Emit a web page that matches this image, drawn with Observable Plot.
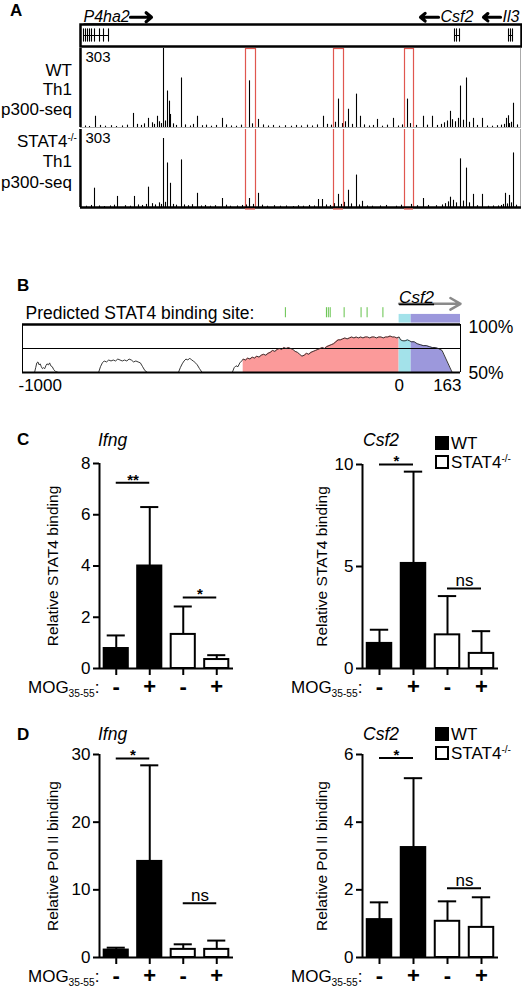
<!DOCTYPE html>
<html><head><meta charset="utf-8">
<script src="https://cdn.jsdelivr.net/npm/d3@7"></script>
<script src="https://cdn.jsdelivr.net/npm/@observablehq/plot@0.6"></script>
<style>
html,body{margin:0;padding:0;background:#fff;overflow:hidden}
#fig{position:relative;width:522px;height:989px;font-family:"Liberation Sans",Arial,Helvetica,sans-serif;color:#000;overflow:hidden}
#fig svg{position:absolute;overflow:visible}
.lab{position:absolute;white-space:nowrap;line-height:1}
.lab sup{font-size:0.6em;vertical-align:0.55em;line-height:0}
.lab sub{font-size:0.6em;vertical-align:-0.35em;line-height:0}
.sq{position:absolute;box-sizing:border-box;width:14px;height:14px;border:2px solid #000}
</style></head><body><div id="fig"></div>
<script>
const FONT = '"Liberation Sans", Arial, Helvetica, sans-serif';

// ---------------- Panel A data (positions in track bins, values in reads, max 303) ----------------
const trackDomain = [0, 441];
const trackMax = 303;
const p4ha2Exons = [3, 5, 7, 9, 11, 14, 19, 23, 28];
const csf2Exons = [374, 376, 379];
const il3Exons = [428, 430, 432];
const geneModels = [
  {gene: "P4ha2", start: 3, end: 28},
  {gene: "Csf2", start: 374, end: 379},
  {gene: "Il3", start: 428, end: 432}
];
const geneLabels = [
  {gene: "P4ha2", textX: 3, arrowFrom: 50, arrowTo: 71},
  {gene: "Csf2", textX: 360, arrowFrom: 358, arrowTo: 340},
  {gene: "Il3", textX: 422, arrowFrom: 420, arrowTo: 403}
];
const enhancerRegions = [[165, 175], [253, 263], [324, 333]];
const wtPeaks = [[15,43],[53,54],[68,35],[77,43],[83,303],[87,140],[89,101],[90,50],[101,190],[117,43],[142,35],[169,179],[178,31],[243,43],[258,109],[268,70],[276,128],[280,43],[297,31],[313,35],[327,109],[343,43],[352,43],[370,62],[380,159],[386,190],[393,35],[402,35],[426,35],[428,45],[433,93]];
const wtNoise = [[5,6],[9,4],[20,8],[25,5],[31,7],[36,4],[42,6],[47,9],[57,12],[61,8],[64,14],[72,18],[74,12],[79,22],[81,15],[85,25],[93,14],[96,8],[105,10],[110,6],[113,12],[122,7],[126,9],[131,5],[136,8],[146,10],[151,6],[156,5],[161,9],[165,12],[172,14],[183,10],[188,6],[193,8],[199,5],[205,7],[211,5],[216,8],[221,6],[227,9],[232,6],[237,10],[247,12],[251,9],[255,20],[262,15],[265,22],[272,12],[284,10],[289,6],[293,8],[302,5],[307,9],[318,6],[322,10],[330,15],[336,8],[347,9],[357,8],[361,12],[364,18],[367,25],[372,30],[375,22],[378,35],[383,28],[389,20],[397,8],[407,6],[412,5],[417,7],[421,9],[424,12],[429,15],[431,20],[437,10]];
const stat4Peaks = [[14,75],[37,43],[54,43],[68,79],[83,268],[87,173],[90,94],[101,185],[117,55],[142,35],[169,35],[178,55],[238,31],[242,31],[258,51],[268,67],[276,126],[282,24],[343,35],[370,40],[380,189],[386,153],[393,51],[402,51],[425,55],[429,47],[433,212]];
const stat4Noise = [[6,5],[11,8],[19,6],[24,4],[30,6],[34,9],[45,7],[50,5],[58,10],[62,8],[66,12],[72,15],[75,10],[79,18],[81,12],[85,20],[93,12],[96,9],[104,10],[108,7],[112,11],[121,6],[125,8],[130,5],[135,7],[146,9],[150,5],[157,6],[162,8],[166,10],[173,12],[182,9],[187,5],[194,7],[200,5],[206,6],[213,4],[218,7],[223,5],[229,8],[234,6],[246,10],[250,8],[254,15],[261,12],[264,20],[271,14],[279,10],[287,6],[292,5],[300,6],[306,8],[316,5],[321,9],[331,12],[337,7],[348,8],[356,7],[362,10],[365,15],[368,22],[373,28],[376,18],[383,25],[389,18],[397,7],[408,5],[413,6],[418,6],[421,8],[423,12],[427,14],[431,18],[436,9]];

// ---------------- Panel B data (bp relative to Csf2 TSS, % identity) ----------------
const consDomain = [-1000, 163];
const bindingSites = [-302, -193, -188, -183, -146, -101, -85, -43];
const exonUTR = [0, 32];
const exonCDS = [32, 163];
const consSeg1 = [[-968,50],[-965,55],[-962,60],[-959,61],[-956,58],[-953,59],[-950,56],[-947,54],[-944,55],[-941,54],[-938,57],[-935,59],[-931,58],[-928,60],[-925,57],[-921,56],[-917,53],[-912,51],[-905,50]];
const consSeg2 = [[-798,50],[-793,56],[-788,60],[-783,62],[-777,61],[-771,63],[-765,62],[-759,63],[-753,62],[-747,64],[-741,63],[-735,62],[-729,63],[-723,62],[-717,64],[-711,63],[-705,61],[-699,62],[-693,61],[-687,60],[-681,56],[-675,52],[-668,50]];
const consSeg3 = [[-586,50],[-581,55],[-576,59],[-571,62],[-566,64],[-561,63],[-556,65],[-551,63],[-546,62],[-541,60],[-536,58],[-530,54],[-523,50]];
const consSeg4 = [[-443,50],[-438,55],[-433,57],[-428,56],[-423,60],[-418,62],[-414,64],[-408,63],[-402,65],[-396,64],[-390,66],[-384,65],[-378,67],[-372,66],[-366,68],[-360,69],[-354,68],[-348,70],[-342,71],[-336,73],[-330,72],[-324,74],[-318,75],[-312,74],[-306,76],[-300,75],[-294,76],[-288,75],[-282,74],[-276,72],[-270,71],[-264,69],[-258,67],[-252,68],[-246,70],[-240,69],[-234,71],[-228,72],[-222,73],[-216,74],[-210,75],[-204,76],[-198,75],[-192,77],[-186,78],[-180,79],[-174,80],[-168,82],[-162,84],[-156,84],[-150,85],[-144,86],[-138,85],[-132,86],[-126,87],[-120,86],[-114,87],[-108,86],[-102,87],[-96,86],[-90,87],[-84,87],[-78,86],[-72,87],[-66,87],[-60,86],[-54,87],[-48,87],[-42,86],[-36,87],[-30,87],[-24,88],[-18,87],[-12,87],[-6,86],[0,87],[4,84],[10,83],[16,83],[22,84],[28,83],[32,82],[40,82],[48,80],[56,79],[64,78],[72,78],[80,77],[88,76],[96,76],[104,75],[114,73],[141,50]];
const conservedStart = -414; // start of the conserved (pink) region
const consTickLabels = ["-1000", "0", "163"];
const consTickPos = [-1000, 0, 163];

// ---------------- Panels C & D data ----------------
const mogLabels = ["-", "+", "-", "+"];
const genotype = ["WT", "WT", "STAT4", "STAT4"];
const cIfngMean = [0.78, 4.0, 1.33, 0.35];
const cIfngSD   = [0.51, 2.3, 1.09, 0.17];
const cCsf2Mean = [1.23, 5.15, 1.65, 0.74];
const cCsf2SD   = [0.67, 4.5, 1.9, 1.09];
const dIfngMean = [1.1, 14.2, 1.2, 1.2];
const dIfngSD   = [0.35, 14.2, 0.75, 1.3];
const dCsf2Mean = [1.12, 3.25, 1.07, 0.89];
const dCsf2SD   = [0.51, 2.05, 0.59, 0.89];
const cIfngSig = [{from: 0, to: 1, y: 7.25, text: "**"}, {from: 2, to: 3, y: 2.77, text: "*"}];
const cCsf2Sig = [{from: 0, to: 1, y: 10.0, text: "*"}, {from: 2, to: 3, y: 3.92, text: "ns"}];
const dIfngSig = [{from: 0, to: 1, y: 29.4, text: "*"}, {from: 2, to: 3, y: 8.0, text: "ns"}];
const dCsf2Sig = [{from: 0, to: 1, y: 5.9, text: "*"}, {from: 2, to: 3, y: 2.05, text: "ns"}];
const cIfngTicks = [0, 2, 4, 6, 8];
const cCsf2Ticks = [0, 5, 10];
const dIfngTicks = [0, 10, 20, 30];
const dCsf2Ticks = [0, 2, 4, 6];

// ---------------- helpers ----------------
const fig = document.getElementById("fig");
function place(node, left, top) {
  node.style.position = "absolute";
  node.style.left = left + "px";
  node.style.top = top + "px";
  fig.appendChild(node);
  return node;
}
function label(html, x, top, css = {}, align = "left") {
  const d = document.createElement("div");
  d.className = "lab";
  d.innerHTML = html;
  Object.assign(d.style, css);
  fig.appendChild(d);
  d.style.top = top + "px";
  if (align === "right") d.style.right = (522 - x) + "px";
  else d.style.left = x + "px";
  return d;
}
const baseStyle = {fontFamily: FONT, fontSize: "15px", background: "transparent", overflow: "visible", color: "black"};

// ---------------- Panel A ----------------
label("A", 10, 2, {fontSize: "17px", fontWeight: "bold"});

const genePlot = Plot.plot({
  width: 522, height: 47, marginLeft: 80, marginRight: 1, marginTop: 24, marginBottom: 1,
  x: {domain: trackDomain, axis: null}, y: {domain: [0, 1], axis: null},
  style: baseStyle,
  marks: [
    Plot.ruleY(geneModels, {x1: "start", x2: "end", y: 0.5, strokeWidth: 1}),
    Plot.ruleX([...p4ha2Exons, ...csf2Exons, ...il3Exons], {x: d => d, y1: 0.2, y2: 0.8, strokeWidth: 1.1}),
    Plot.frame({stroke: "black", strokeWidth: 2.5}),
    Plot.text(geneLabels, {x: "textX", y: 1.33, text: "gene", textAnchor: "start", fontStyle: "italic", fontSize: 16}),
    Plot.arrow(geneLabels, {x1: "arrowFrom", x2: "arrowTo", y1: 1.33, y2: 1.33, strokeWidth: 3.2, headLength: 8, headAngle: 80})
  ]
});
place(genePlot, 0, 0);
genePlot.querySelectorAll("text").forEach(t => { if (t.textContent === "P4ha2") t.setAttribute("text-decoration", "underline"); });

function trackPlot(peaks, noise, top, h, mt, mb, isLast) {
  const all = [...noise, ...peaks];
  const marks = [
    Plot.ruleY([0], {stroke: "#999", strokeWidth: 0.8}),
    Plot.ruleX(all, {x: d => d[0], y1: 0, y2: d => d[1], stroke: "black", strokeWidth: 1.1}),
    Plot.ruleX([trackDomain[0]], {stroke: "black", strokeWidth: 2.5}),
    Plot.ruleX([trackDomain[1] - 1], {stroke: "#aaa", strokeWidth: 1}),
    Plot.text([trackMax], {x: trackDomain[0], y: trackMax, text: d => String(d), textAnchor: "start", dx: 5, dy: 9, fontSize: 15}),
    Plot.ruleX(enhancerRegions.flat(), {stroke: "#e0574f", strokeWidth: 1.2})
  ];
  if (isLast) {
    marks.push(Plot.ruleY([0], {stroke: "black", strokeWidth: 2.5}));
    marks.push(Plot.ruleY(enhancerRegions, {x1: d => d[0], x2: d => d[1], y: 0, dy: 1.5, stroke: "#e0574f", strokeWidth: 1.2}));
  } else {
    marks.push(Plot.ruleY(enhancerRegions, {x1: d => d[0], x2: d => d[1], y: trackMax, stroke: "#e0574f", strokeWidth: 1.2}));
  }
  const p = Plot.plot({
    width: 522, height: h, marginLeft: 80, marginRight: 1, marginTop: mt, marginBottom: mb,
    x: {domain: trackDomain, axis: null}, y: {domain: [0, trackMax], axis: null},
    style: baseStyle, marks
  });
  return place(p, 0, top);
}
trackPlot(wtPeaks, wtNoise, 46, 81, 2, 0, false);
trackPlot(stat4Peaks, stat4Noise, 127, 81, 2, 1, true);

const tl = {fontSize: "17px"};
label("WT", 72, 61.5, tl, "right");
label("Th1", 72, 80.5, tl, "right");
label("p300-seq", 72, 101, tl, "right");
label("STAT4<sup>-/-</sup>", 77, 133, tl, "right");
label("Th1", 72, 152.5, tl, "right");
label("p300-seq", 72, 174, tl, "right");

// ---------------- Panel B ----------------
label("B", 17, 277, {fontSize: "17px", fontWeight: "bold"});
const seg4 = consSeg4;
const redPart = seg4.filter(d => d[0] >= conservedStart && d[0] <= exonUTR[0]);
const cyanPart = seg4.filter(d => d[0] >= exonUTR[0] && d[0] <= exonUTR[1]);
const purplePart = seg4.filter(d => d[0] >= exonCDS[0]);
const consPlot = Plot.plot({
  width: 522, height: 112, marginLeft: 22, marginRight: 62, marginTop: 44, marginBottom: 20,
  x: {domain: consDomain, axis: null}, y: {domain: [50, 100], axis: null},
  style: baseStyle,
  marks: [
    Plot.areaY(redPart, {x: d => d[0], y1: 50, y2: d => d[1], fill: "#fb9a9a"}),
    Plot.areaY(cyanPart, {x: d => d[0], y1: 50, y2: d => d[1], fill: "#a3e2ea"}),
    Plot.areaY(purplePart, {x: d => d[0], y1: 50, y2: d => d[1], fill: "#9c98dc"}),
    Plot.ruleY([75], {stroke: "black", strokeWidth: 1}),
    Plot.ruleX(consDomain, {y1: 50, y2: 100, stroke: "black", strokeWidth: 1}),
    Plot.line(consSeg1, {x: d => d[0], y: d => d[1], stroke: "#222", strokeWidth: 0.9}),
    Plot.line(consSeg2, {x: d => d[0], y: d => d[1], stroke: "#222", strokeWidth: 0.9}),
    Plot.line(consSeg3, {x: d => d[0], y: d => d[1], stroke: "#222", strokeWidth: 0.9}),
    Plot.line(consSeg4, {x: d => d[0], y: d => d[1], stroke: "#222", strokeWidth: 0.9}),
    Plot.ruleY([50], {stroke: "black", strokeWidth: 2}),
    Plot.ruleY([100], {stroke: "black", strokeWidth: 2.5}),
    Plot.rect([exonUTR], {x1: d => d[0], x2: d => d[1], y1: 101.5, y2: 110.5, fill: "#a3e2ea"}),
    Plot.rect([exonCDS], {x1: d => d[0], x2: d => d[1], y1: 101.5, y2: 110.5, fill: "#9c98dc"}),
    Plot.ruleX(bindingSites, {y1: 107, y2: 117.5, stroke: "#63c24a", strokeWidth: 1}),
    Plot.text(["Predicted STAT4 binding site:"], {x: consDomain[0], y: 112, dx: 3, textAnchor: "start", fontSize: 17.5}),
    Plot.arrow([exonCDS], {x1: exonUTR[0], x2: d => d[1], y1: 121.5, y2: 121.5, stroke: "#8a8a8a", strokeWidth: 2.5, headLength: 7, headAngle: 60}),
    Plot.text(["Csf2"], {x: exonUTR[0], y: 128.5, textAnchor: "start", fontStyle: "italic", fontSize: 17}),
    Plot.text(["100%"], {x: consDomain[1], y: 100, dx: 8, dy: 3, textAnchor: "start", fontSize: 17.5}),
    Plot.text(["50%"], {x: consDomain[1], y: 50, dx: 8, dy: 1, textAnchor: "start", fontSize: 17.5}),
    Plot.text([0], {x: d => consTickPos[d], y: 50, dy: 13, dx: -4, text: d => consTickLabels[d], textAnchor: "start", fontSize: 17}),
    Plot.text([1], {x: d => consTickPos[d], y: 50, dy: 13, text: d => consTickLabels[d], textAnchor: "middle", fontSize: 17}),
    Plot.text([2], {x: d => consTickPos[d], y: 50, dy: 13, dx: 1, text: d => consTickLabels[d], textAnchor: "end", fontSize: 17})
  ]
});
place(consPlot, 0, 280);
consPlot.querySelectorAll("text").forEach(t => { if (t.textContent === "Csf2") t.setAttribute("text-decoration", "underline"); });

// ---------------- Panels C & D ----------------
const xDom = [-0.5, 3.5];
function barChart(o) {
  const rows = o.mean.map((m, i) => ({i, mean: m, top: m + o.sd[i], geno: genotype[i]}));
  const wt = rows.filter(d => d.geno === "WT");
  const ko = rows.filter(d => d.geno !== "WT");
  const yTop = o.ticks[o.ticks.length - 1];
  const p = Plot.plot({
    width: o.width, height: o.height,
    marginLeft: o.ml, marginRight: o.mr, marginTop: o.mt, marginBottom: o.mb,
    style: baseStyle,
    x: {domain: xDom, axis: null},
    y: {domain: [0, yTop], axis: null},
    marks: [
      Plot.ruleX(rows, {x: "i", y1: "mean", y2: "top", stroke: "black", strokeWidth: 2}),
      Plot.ruleY(rows, {x1: d => d.i - 0.27, x2: d => d.i + 0.27, y: "top", stroke: "black", strokeWidth: 2}),
      Plot.rectY(wt, {x1: d => d.i - 0.36, x2: d => d.i + 0.36, y1: 0, y2: "mean", fill: "black", stroke: "black", strokeWidth: 2}),
      Plot.rectY(ko, {x1: d => d.i - 0.36, x2: d => d.i + 0.36, y1: 0, y2: "mean", fill: "white", stroke: "black", strokeWidth: 2}),
      Plot.ruleY(o.sig, {x1: "from", x2: "to", y: "y", stroke: "black", strokeWidth: 2}),
      Plot.text(o.sig.filter(d => d.text !== "ns"), {x: d => (d.from + d.to) / 2, y: "y", text: "text", dy: -3, fontSize: 15, fontWeight: "bold"}),
      Plot.text(o.sig.filter(d => d.text === "ns"), {x: d => (d.from + d.to) / 2, y: "y", text: "text", dy: -8, fontSize: 17}),
      Plot.ruleY([0], {stroke: "black", strokeWidth: 2}),
      Plot.ruleX([xDom[0]], {y1: 0, y2: yTop, stroke: "black", strokeWidth: 2}),
      Plot.axisY({ticks: o.ticks, tickFormat: d => String(d), tickSize: 6, strokeWidth: 2, tickPadding: 3, fontSize: 17, label: null}),
      Plot.axisX({ticks: [0, 1, 2, 3], tickFormat: i => mogLabels[i], tickSize: 7, strokeWidth: 2, tickPadding: 3, fontSize: 22, fontWeight: "bold", label: null}),
      Plot.text([o.title], {frameAnchor: "left", rotate: -90, textAnchor: "middle", dx: -o.titleOffset, fontSize: 15.5})
    ]
  });
  return place(p, o.left, o.top);
}
barChart({mean: cIfngMean, sd: cIfngSD, sig: cIfngSig, ticks: cIfngTicks, title: "Relative STAT4 binding", titleOffset: 46,
  width: 250, height: 280, ml: 99, mr: 17, mt: 43, mb: 32, left: 0, top: 420});
barChart({mean: cCsf2Mean, sd: cCsf2SD, sig: cCsf2Sig, ticks: cCsf2Ticks, title: "Relative STAT4 binding", titleOffset: 40,
  width: 262, height: 280, ml: 102, mr: 24, mt: 44, mb: 32, left: 260, top: 420});
barChart({mean: dIfngMean, sd: dIfngSD, sig: dIfngSig, ticks: dIfngTicks, title: "Relative Pol II binding", titleOffset: 46,
  width: 250, height: 279, ml: 99, mr: 17, mt: 44, mb: 32, left: 0, top: 710});
barChart({mean: dCsf2Mean, sd: dCsf2SD, sig: dCsf2Sig, ticks: dCsf2Ticks, title: "Relative Pol II binding", titleOffset: 40,
  width: 262, height: 279, ml: 102, mr: 24, mt: 44, mb: 32, left: 260, top: 710});

label("C", 17, 431, {fontSize: "17px", fontWeight: "bold"});
label("D", 17, 726, {fontSize: "17px", fontWeight: "bold"});
const gt = {fontSize: "17.5px", fontStyle: "italic"};
label("Ifng", 98, 432, gt);
label("Csf2", 363, 432, gt);
label("Ifng", 98, 726, gt);
label("Csf2", 363, 726, gt);
const mog = {fontSize: "17px"};
label("MOG<sub>35-55</sub>:", 28, 679, mog);
label("MOG<sub>35-55</sub>:", 291, 679, mog);
label("MOG<sub>35-55</sub>:", 28, 968, mog);
label("MOG<sub>35-55</sub>:", 291, 968, mog);

function legend(top) {
  const a = document.createElement("div"); a.className = "sq"; a.style.background = "#000";
  place(a, 435, top);
  label("WT", 451, top - 1, {fontSize: "17px"});
  const b = document.createElement("div"); b.className = "sq"; b.style.background = "#fff";
  place(b, 435, top + 19);
  label("STAT4<sup>-/-</sup>", 451, top + 18, {fontSize: "17px"});
}
legend(436);
legend(727);
</script></body></html>
